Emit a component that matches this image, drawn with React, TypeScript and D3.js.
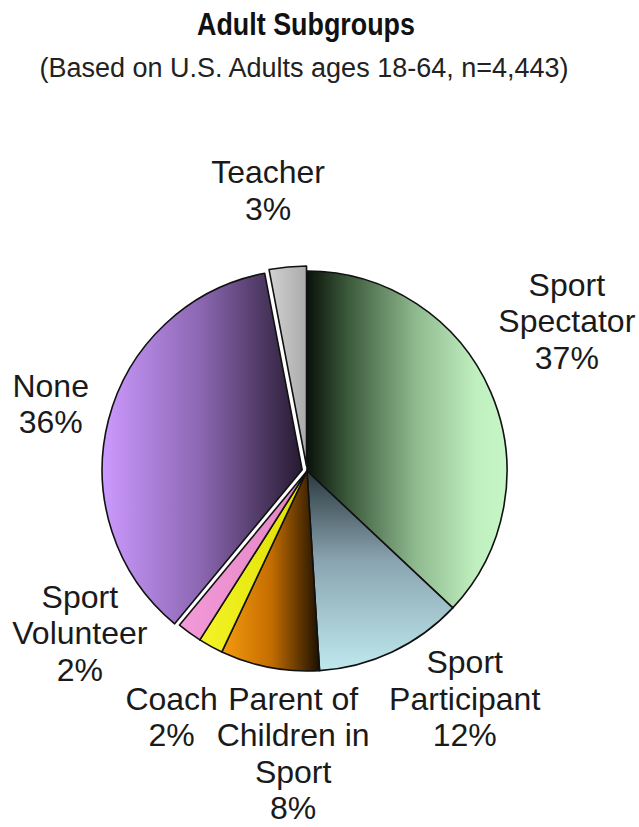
import React from "react";
import * as d3 from "d3";

// ---- Data ----
const categories = [
  "Sport Spectator",
  "Sport Participant",
  "Parent of Children in Sport",
  "Coach",
  "Sport Volunteer",
  "None",
  "Teacher",
];
const percents = [37, 12, 8, 2, 2, 36, 3];
const labelLines = [
  ["Sport", "Spectator"],
  ["Sport", "Participant"],
  ["Parent of", "Children in", "Sport"],
  ["Coach"],
  ["Sport", "Volunteer"],
  ["None"],
  ["Teacher"],
];
const explodedSlices = ["None", "Teacher"];
const titleText = "Adult Subgroups";
const subtitleText = "(Based on U.S. Adults ages 18-64, n=4,443)";

// ---- Styling / layout ----
const W = 639;
const H = 827;
const CX = 307;
const CY = 471;
const R = 200;
const EXPLODE = 5;
const FONT = "Arial, 'Liberation Sans', sans-serif";
const LABEL_SIZE = 32;
const LINE_H = 36.5;

type Grad = { dir: "h" | "v"; stops: [number, string][] };
const fills: Grad[] = [
  { dir: "h", stops: [[0, "#0a120a"], [0.2, "#3a583a"], [0.55, "#90bb90"], [0.85, "#c0f0c0"], [1, "#c6f6c6"]] },
  { dir: "v", stops: [[0, "#2a383e"], [0.45, "#8aa4b0"], [1, "#bfe9ee"]] },
  { dir: "h", stops: [[0, "#f59a10"], [0.5, "#c56e00"], [1, "#1c1000"]] },
  { dir: "h", stops: [[0, "#f4f428"], [1, "#dede00"]] },
  { dir: "h", stops: [[0, "#f49ad8"], [1, "#e284c4"]] },
  { dir: "h", stops: [[0, "#cc9aff"], [0.5, "#8a66b0"], [1, "#261a30"]] },
  { dir: "h", stops: [[0, "#d2d2d2"], [1, "#aaaaaa"]] },
];
// label placement: angle offset from slice mid-angle (deg) and radius
const labelAngleOffset = [-6.6, -9.5, -8.0, 0, 18.5, 0.3, -2.5];
const labelRadius = [300, 277, 283, 281, 279, 265, 283];

export default function App() {
  const arcs = d3
    .pie<number>()
    .sort(null)
    .value((d) => d)(percents);
  const arcGen = d3.arc<d3.PieArcDatum<number>>().innerRadius(0).outerRadius(R);

  return (
    <svg
      width={W}
      height={H}
      viewBox={`0 0 ${W} ${H}`}
      style={{ position: "absolute", left: 0, top: 0, background: "#fff" }}
    >
      <defs>
        {fills.map((g, i) => (
          <linearGradient
            key={i}
            id={`g${i}`}
            x1="0"
            y1="0"
            x2={g.dir === "h" ? "1" : "0"}
            y2={g.dir === "v" ? "1" : "0"}
          >
            {g.stops.map(([o, c], j) => (
              <stop key={j} offset={o} stopColor={c} />
            ))}
          </linearGradient>
        ))}
      </defs>
      <rect width={W} height={H} fill="#fff" />
      <text
        transform="translate(306,35) scale(0.96,1.1)"
        textAnchor="middle"
        fontFamily={FONT}
        fontWeight="bold"
        fontSize={28}
        fill="#111"
      >
        {titleText}
      </text>
      <text
        x={304}
        y={77}
        textAnchor="middle"
        fontFamily={FONT}
        fontSize={27}
        fill="#222"
      >
        {subtitleText}
      </text>
      <g>
        {arcs.map((a, i) => {
          const mid = (a.startAngle + a.endAngle) / 2;
          const ex = explodedSlices.includes(categories[i]) ? EXPLODE : 0;
          const dx = Math.sin(mid) * ex;
          const dy = -Math.cos(mid) * ex;
          return (
            <path
              key={categories[i]}
              d={arcGen(a) || ""}
              transform={`translate(${CX + dx},${CY + dy})`}
              fill={`url(#g${i})`}
              stroke="#111"
              strokeWidth={1.6}
              strokeLinejoin="round"
            />
          );
        })}
      </g>
      <g fontFamily={FONT} fontSize={LABEL_SIZE} fill="#1a1a1a" textAnchor="middle">
        {arcs.map((a, i) => {
          const mid = (a.startAngle + a.endAngle) / 2;
          const ang = mid + (labelAngleOffset[i] * Math.PI) / 180;
          const x = CX + Math.sin(ang) * labelRadius[i];
          const y = CY - Math.cos(ang) * labelRadius[i];
          const lines = [...labelLines[i], `${percents[i]}%`];
          const n = lines.length;
          return (
            <text key={categories[i]} x={x} y={y}>
              {lines.map((ln, j) => (
                <tspan
                  key={j}
                  x={x}
                  y={y + (j - (n - 1) / 2) * LINE_H}
                  dominantBaseline="central"
                >
                  {ln}
                </tspan>
              ))}
            </text>
          );
        })}
      </g>
    </svg>
  );
}
